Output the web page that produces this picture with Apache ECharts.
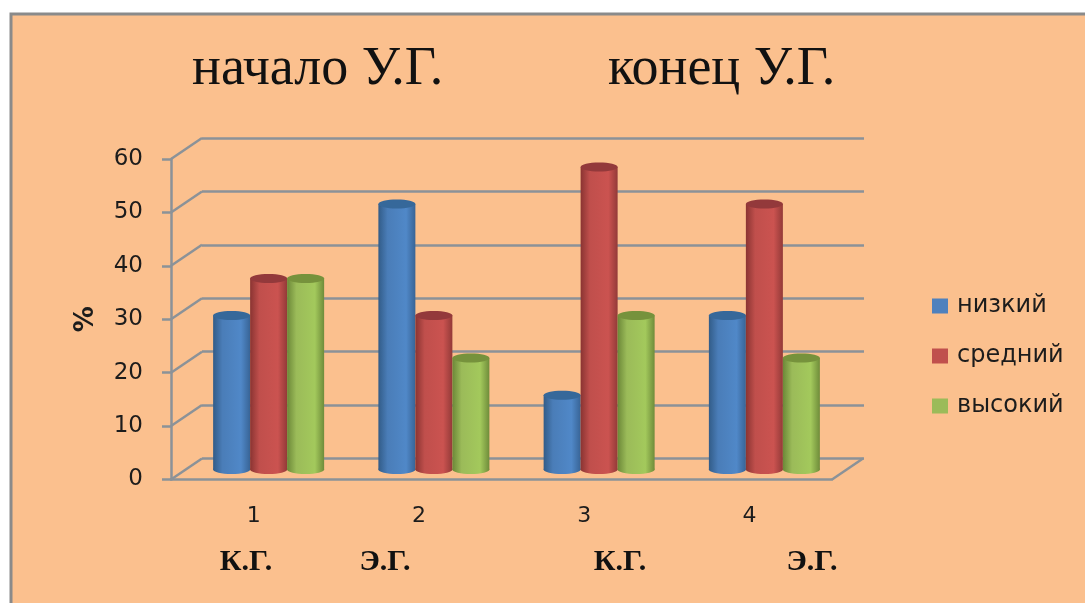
<!DOCTYPE html>
<html>
<head>
<meta charset="utf-8">
<style>
  html, body { margin: 0; padding: 0; background: #fff; }
  #chart { width: 1085px; height: 603px; }
</style>
<script src="https://cdn.jsdelivr.net/npm/echarts@6/dist/echarts.min.js"></script>
</head>
<body>
<div id="chart"></div>
<script>
var categories = ['1', '2', '3', '4'];
var seriesNames = ['низкий', 'средний', 'высокий'];
var lowValues = [29, 50, 14, 29];
var midValues = [36, 29, 57, 50];
var highValues = [36, 21, 29, 21];
var yTicks = [0, 10, 20, 30, 40, 50, 60];
var groupLabels = ['К.Г.', 'Э.Г.', 'К.Г.', 'Э.Г.'];
var groupLabelX = [246, 385, 620, 812];

var myChart = echarts.init(document.getElementById('chart'));

var gridColor = '#8b9298';
var textColor = '#1c1c1c';
var sansFont = '"DejaVu Sans"';
var serifFont = '"Liberation Serif"';

// depth of the fake 3d box, in px
var depthX = 31;
var depthY = -21;
var barWidth = 37;
var capRy = 4.5;

function grad(c0, c1, c2, c3) {
    return new echarts.graphic.LinearGradient(0, 0, 1, 0, [
        {offset: 0, color: c0},
        {offset: 0.25, color: c1},
        {offset: 0.75, color: c2},
        {offset: 1, color: c3}
    ]);
}

var barStyles = [
    {fill: grad('#325c88', '#4a7db8', '#5088c8', '#386496'), cap: '#36689a', legend: '#4f81bd'},
    {fill: grad('#8a3432', '#c04f4c', '#cb5350', '#933a38'), cap: '#93393b', legend: '#c0504d'},
    {fill: grad('#6c8838', '#9bbb59', '#a3c95c', '#6f8c3a'), cap: '#76923c', legend: '#9bbb59'}
];

function cylinder(seriesPos) {
    return function (params, api) {
        var base = api.coord([api.value(0), 0]);
        var top = api.coord([api.value(0), api.value(1)]);
        var cx = base[0] + (seriesPos - 1) * barWidth;
        var st = barStyles[seriesPos];
        return {
            type: 'group',
            children: [
                {
                    type: 'ellipse',
                    shape: {cx: cx, cy: base[1], rx: barWidth / 2, ry: capRy},
                    style: {fill: st.fill}
                },
                {
                    type: 'rect',
                    shape: {x: cx - barWidth / 2, y: top[1], width: barWidth, height: base[1] - top[1]},
                    style: {fill: st.fill}
                },
                {
                    type: 'ellipse',
                    shape: {cx: cx, cy: top[1], rx: barWidth / 2, ry: capRy},
                    style: {fill: st.cap}
                }
            ]
        };
    };
}

function depthLines(params, api) {
    var band = api.size([1, 0])[0];
    var p = api.coord([0, api.value(0)]);
    var x = p[0] - band / 2;
    var lineStyle = {stroke: gridColor, lineWidth: 2.5};
    var children = [{
        type: 'line',
        shape: {x1: x, y1: p[1], x2: x + depthX, y2: p[1] + depthY},
        style: lineStyle
    }];
    if (api.value(0) === 0) {
        var xEnd = x + band * categories.length;
        children.push({
            type: 'line',
            shape: {x1: xEnd, y1: p[1], x2: xEnd + depthX, y2: p[1] + depthY},
            style: lineStyle
        });
    }
    return {type: 'group', children: children};
}

function catAxis(idx, visible) {
    return {
        type: 'category',
        gridIndex: idx,
        data: categories,
        show: visible,
        axisLine: {show: visible, lineStyle: {color: gridColor, width: 2.5}},
        axisTick: {show: false},
        axisLabel: {show: visible, color: textColor, fontSize: 22, fontFamily: sansFont, margin: 26}
    };
}

var seriesData = [lowValues, midValues, highValues];

var option = {
    animation: false,
    backgroundColor: '#ffffff',
    title: [
        {
            text: 'начало У.Г.', left: 187, top: 38,
            textStyle: {fontFamily: serifFont, fontWeight: 'normal', fontSize: 54, color: '#111'}
        },
        {
            text: 'конец У.Г.', left: 603, top: 38,
            textStyle: {fontFamily: serifFont, fontWeight: 'normal', fontSize: 54, color: '#111'}
        }
    ],
    legend: {
        orient: 'vertical',
        left: 927,
        top: 289,
        data: seriesNames.map(function (n, i) {
            return {name: n, icon: 'rect', itemStyle: {color: barStyles[i].legend}};
        }),
        itemWidth: 16,
        itemHeight: 15,
        itemGap: 26,
        selectedMode: false,
        textStyle: {color: textColor, fontSize: 24, fontFamily: sansFont, padding: [0, 0, 0, 4]}
    },
    grid: [
        {left: 171, top: 159, width: 661, height: 320.5},
        {left: 186, top: 151, width: 661, height: 318.5},
        {left: 202, top: 138, width: 662, height: 320.5}
    ],
    xAxis: [catAxis(0, true), catAxis(1, false), catAxis(2, false)],
    yAxis: [
        {
            type: 'value', gridIndex: 0, min: 0, max: 60, interval: 10,
            name: '%',
            nameLocation: 'middle',
            nameGap: 72,
            nameRotate: 90,
            nameTextStyle: {color: textColor, fontSize: 26, fontWeight: 'bold', fontFamily: sansFont},
            axisLine: {show: true, lineStyle: {color: gridColor, width: 2.5}},
            axisTick: {show: true, length: 9, lineStyle: {color: gridColor, width: 2.5}},
            axisLabel: {color: textColor, fontSize: 23, fontFamily: sansFont, margin: 28},
            splitLine: {show: false}
        },
        {
            type: 'value', gridIndex: 1, min: 0, max: 60, interval: 10,
            axisLine: {show: false}, axisTick: {show: false}, axisLabel: {show: false},
            splitLine: {show: false}
        },
        {
            type: 'value', gridIndex: 2, min: 0, max: 60, interval: 10,
            axisLine: {show: false}, axisTick: {show: false}, axisLabel: {show: false},
            splitLine: {show: true, lineStyle: {color: gridColor, width: 2.5}}
        }
    ],
    graphic: [
        {
            type: 'rect',
            z: -10,
            shape: {x: 11, y: 14, width: 1090, height: 600},
            style: {fill: '#fbc08e', stroke: '#8a8a8a', lineWidth: 3}
        }
    ].concat(groupLabels.map(function (t, i) {
        return {
            type: 'text',
            x: groupLabelX[i],
            y: 562,
            style: {
                text: t,
                fill: '#111',
                font: 'bold 30px ' + serifFont,
                textAlign: 'center',
                textVerticalAlign: 'middle'
            }
        };
    })),
    series: [
        {
            type: 'custom',
            xAxisIndex: 0,
            yAxisIndex: 0,
            silent: true,
            clip: false,
            renderItem: depthLines,
            encode: {y: 0},
            data: yTicks.map(function (v) { return [v]; })
        }
    ].concat(seriesNames.map(function (n, i) {
        return {
            name: n,
            type: 'custom',
            xAxisIndex: 1,
            yAxisIndex: 1,
            clip: false,
            z: 3 + i,
            renderItem: cylinder(i),
            encode: {x: 0, y: 1},
            data: seriesData[i].map(function (v, k) { return [k, v]; })
        };
    }))
};

option && myChart.setOption(option);
</script>
</body>
</html>
